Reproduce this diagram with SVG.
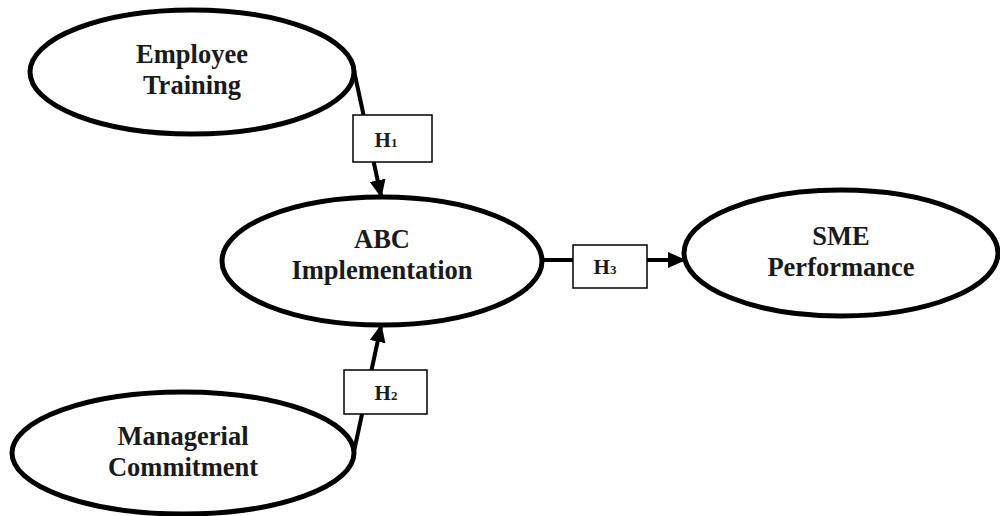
<svg xmlns="http://www.w3.org/2000/svg" width="1000" height="516" viewBox="0 0 1000 516">
<style>
.node ellipse{fill:#fff;stroke:#000;stroke-width:5}
.lbl{font-family:"Liberation Serif","Times New Roman",serif;font-weight:bold;font-size:26.5px;fill:#1a1a1a;text-anchor:middle}
.conn line{stroke:#000;stroke-width:4}
.hbox rect{fill:#fff;stroke:#000;stroke-width:1.5}
.h{font-family:"Liberation Serif","Times New Roman",serif;font-weight:bold;font-size:21px;fill:#1a1a1a;text-anchor:middle}
.sub{font-size:13px}
</style>
<defs>
<marker id="arr" markerUnits="userSpaceOnUse" markerWidth="18" markerHeight="16" viewBox="0 0 18 16" refX="16" refY="8" orient="auto">
<path d="M0,0 L18,8 L0,16 Z" fill="#000"/>
</marker>
</defs>
<g id="connectors" class="conn">
<line x1="353" y1="66" x2="381" y2="196" marker-end="url(#arr)"/>
<line x1="353" y1="456" x2="381" y2="326" marker-end="url(#arr)"/>
<line x1="541" y1="260" x2="684" y2="260" marker-end="url(#arr)"/>
</g>
<g id="employee-training" class="node">
<ellipse cx="192" cy="72" rx="162" ry="62"/>
<text class="lbl" x="192" y="63">Employee</text>
<text class="lbl" x="192" y="94">Training</text>
</g>
<g id="abc-implementation" class="node">
<ellipse cx="382" cy="261" rx="160" ry="64"/>
<text class="lbl" x="382" y="248">ABC</text>
<text class="lbl" x="382" y="279">Implementation</text>
</g>
<g id="sme-performance" class="node">
<ellipse cx="841" cy="253" rx="157" ry="63"/>
<text class="lbl" x="841" y="245">SME</text>
<text class="lbl" x="841" y="276">Performance</text>
</g>
<g id="managerial-commitment" class="node">
<ellipse cx="183" cy="453" rx="171" ry="61"/>
<text class="lbl" x="183" y="445">Managerial</text>
<text class="lbl" x="183" y="476">Commitment</text>
</g>
<g id="h1" class="hbox">
<rect x="353" y="115" width="79" height="47"/>
<text class="h" x="386" y="147">H<tspan class="sub">1</tspan></text>
</g>
<g id="h2" class="hbox">
<rect x="344" y="370" width="83" height="44"/>
<text class="h" x="386" y="400">H<tspan class="sub">2</tspan></text>
</g>
<g id="h3" class="hbox">
<rect x="573" y="245" width="74" height="43"/>
<text class="h" x="605" y="274">H<tspan class="sub">3</tspan></text>
</g>
</svg>
